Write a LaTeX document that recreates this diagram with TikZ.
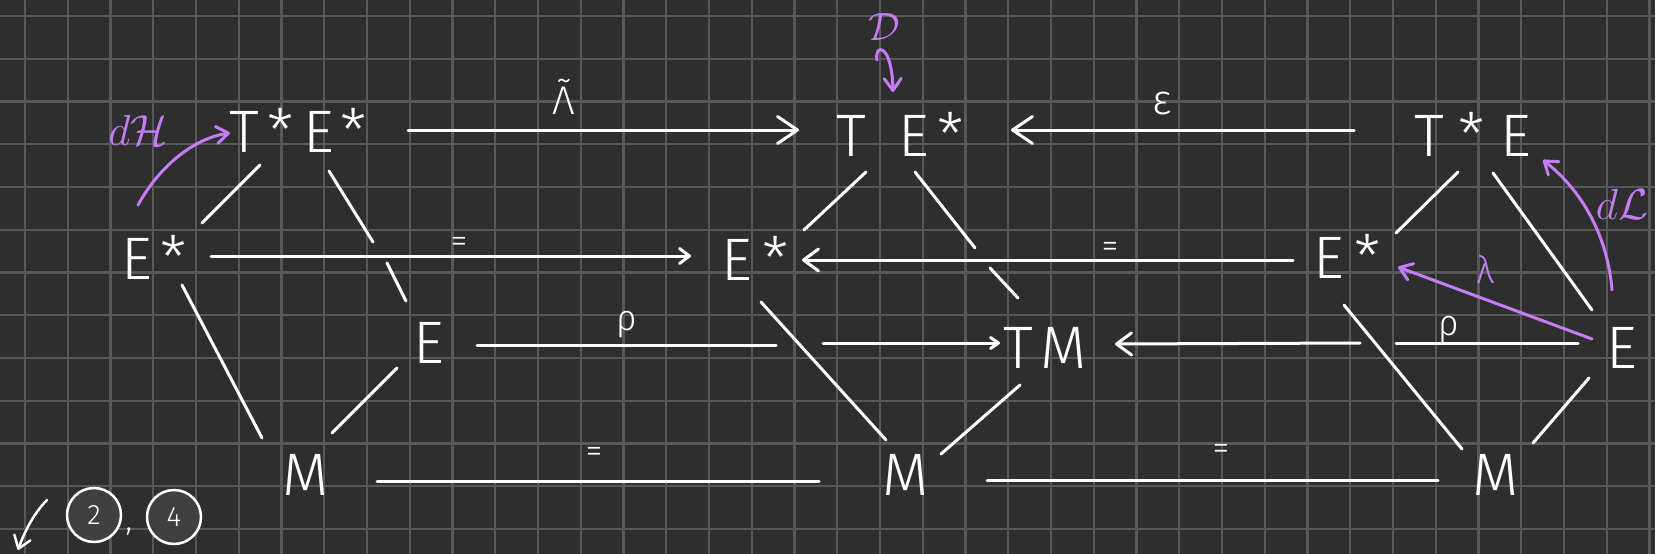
\documentclass[tikz,border=0pt]{standalone}
\usepackage{graphicx}
\usepackage{fontspec}
\setmainfont{Fira Sans}[UprightFont=* Light]
\usetikzlibrary{arrows.meta,calc}
\definecolor{bg}{RGB}{46,46,46}
\definecolor{gridc}{RGB}{88,88,90}
\definecolor{purp}{RGB}{196,125,245}
\definecolor{circfill}{RGB}{64,64,64}
\begin{document}
\begin{tikzpicture}[x=1pt,y=-1pt,
  obj/.style={text=white, font=\fontsize{60}{66}\selectfont, inner sep=0pt},
  eqlab/.style={text=white, font=\fontsize{34}{36}\selectfont, inner sep=0pt},
  glab/.style={text=white, font=\fontsize{#1}{#1}\selectfont, inner sep=0pt},
  plab/.style={text=purp, font=\fontsize{#1}{#1}\selectfont, inner sep=0pt},
  mlab/.style={text=purp, font=\fontsize{20}{22}\selectfont, inner sep=0pt},
  edge/.style={draw=white, line width=3pt, line cap=round},
  pedge/.style={draw=purp, line width=3pt, line cap=round},
  bigtip/.style={-{Straight Barb[length=20pt,width=27pt,round]}},
  midtip/.style={-{Straight Barb[length=15pt,width=22pt,round]}},
  smalltip/.style={-{Straight Barb[length=10pt,width=15pt,round]}},
  tinytip/.style={-{Straight Barb[length=8pt,width=11pt,round]}},
  ptip/.style={-{Straight Barb[length=12pt,width=17pt,round]}},
  numcirc/.style={circle, draw=white, line width=2.5pt, fill=circfill, minimum size=54pt,
    inner sep=0pt, text=white, font=\fontsize{28}{30}\selectfont}
]
\useasboundingbox (0,0) rectangle (1655,554);
\fill[bg] (0,0) rectangle (1655,554);
\foreach \i in {0,...,38} \draw[gridc, line width=2.2pt] ({25+42.75*\i},0) -- ({25+42.75*\i},554);
\foreach \j in {0,...,12} \draw[gridc, line width=2.2pt] (0,{16+42.75*\j}) -- (1655,{16+42.75*\j});

% objects
\node[obj] (TEsL) at (298,130) {T\kern8pt*\kern10pt E\kern6pt*};
\node[obj] (EsL) at (154,257) {E\kern8pt*};
\node[obj] (EL) at (429,343) {E};
\node[obj] (ML) at (306,475) {M};
\node[obj] (TEs) at (900,134) {T\kern32pt E\kern8pt*};
\node[obj] (Es) at (755,258) {E\kern10pt*};
\node[obj] (TM) at (1045,348) {T\kern8pt M};
\node[obj] (MC) at (906,475) {M};
\node[obj] (TE) at (1473,134) {T\kern14pt*\kern16pt E};
\node[obj] (EsR) at (1347,256) {E\kern10pt*};
\node[obj] (ER) at (1622,348) {E};
\node[obj] (MR) at (1496,475) {M};

% labels
\node[glab=40] (lt) at (564,97) {\~{Λ}};
\node[eqlab] (eq1) at (459,245) {=};
\node[glab=36] (rho1) at (627,325) {ρ};
\node[eqlab] (eq2) at (594,455) {=};
\node[glab=42] (eps) at (1162,104) {ε};
\node[eqlab] (eq3) at (1110,250) {=};
\node[glab=36] (rho2) at (1449,330) {ρ};
\node[eqlab] (eq4) at (1221,452) {=};
\node[plab=38] (lam) at (1485,270) {λ};
\node[mlab] (dH) at (138,130) {\scalebox{2.1}{$d\mathcal{H}$}};
\node[mlab] (dL) at (1622,204) {\scalebox{2.1}{$d\mathcal{L}$}};
\node[mlab] (D) at (884,27) {\scalebox{1.9}{$\mathcal{D}$}};

% left diamond
\draw[edge] ($(EsL)+(48,-34)$) -- ($(TEsL)+(-38,35)$);
\draw[edge] ($(TEsL)+(31,41)$) -- ($(TEsL)+(75,112)$);
\draw[edge] ($(EL)+(-42,-80)$) -- ($(EL)+(-23,-42)$);
\draw[edge] ($(EsL)+(28,28)$) -- ($(ML)+(-44,-37)$);
\draw[edge] ($(EL)+(-32,25)$) -- ($(ML)+(26,-42)$);

% horizontal maps
\draw[edge,bigtip] ($(TEsL)+(110,0)$) -- ($(TEs)+(-101,-4)$);
\draw[edge,smalltip] ($(EsL)+(57,-1)$) -- ($(Es)+(-64,-2)$);
\draw[edge] ($(EL)+(48,2)$) -- ($(EL)+(347,2)$);
\draw[edge,tinytip] ($(TM)+(-222,-5)$) -- ($(TM)+(-45,-5)$);
\draw[edge] ($(ML)+(71,6)$) -- ($(MC)+(-87,6)$);
\draw[edge,bigtip] ($(TE)+(-119,-4)$) -- ($(TEs)+(111,-4)$);
\draw[edge,midtip] ($(EsR)+(-54,4)$) -- ($(Es)+(47,2)$);
\draw[edge] ($(ER)+(-44,-5)$) -- ($(ER)+(-226,-5)$);
\draw[edge,midtip] ($(ER)+(-262,-5)$) -- ($(TM)+(70,-4)$);
\draw[edge] ($(MC)+(81,5)$) -- ($(MR)+(-58,5)$);

% centre diamond
\draw[edge] ($(TEs)+(-34,38)$) -- ($(Es)+(49,-28)$);
\draw[edge] ($(TEs)+(15,38)$) -- ($(TEs)+(75,114)$);
\draw[edge] ($(TM)+(-55,-80)$) -- ($(TM)+(-27,-50)$);
\draw[edge] ($(Es)+(6,44)$) -- ($(MC)+(-20,-35)$);
\draw[edge] ($(TM)+(-25,37)$) -- ($(MC)+(35,-21)$);

% right diamond
\draw[edge] ($(TE)+(-15,38)$) -- ($(EsR)+(49,-23)$);
\draw[edge] ($(TE)+(20,39)$) -- ($(ER)+(-30,-38)$);
\draw[edge] ($(EsR)+(-3,49)$) -- ($(MR)+(-34,-26)$);
\draw[edge] ($(ER)+(-33,30)$) -- ($(MR)+(37,-32)$);

% purple maps
\draw[pedge,ptip] ($(ER)+(-30,-9)$) -- ($(EsR)+(51,11)$);
\draw[pedge,ptip] ($(ER)+(-10,-58)$) .. controls ($(ER)+(-14,-108)$) and ($(ER)+(-37,-155)$) .. ($(TE)+(70,26)$);
\draw[pedge,ptip] ($(EsL)+(-16,-52)$) .. controls ($(EsL)+(6,-92)$) and ($(EsL)+(41,-119)$) .. ($(TEsL)+(-68,3)$);
\draw[pedge,ptip] ($(D)+(-7,33)$) .. controls ($(D)+(-10,16)$) and ($(D)+(8,16)$) .. ($(TEs)+(-7,-42)$);

% bottom-left marks
\coordinate (sw1) at (47,500);
\coordinate (sw2) at (18,550);
\draw[edge, line width=2.5pt, -{Straight Barb[length=12pt,width=17pt,round]}] (sw1) .. controls (35,512) and (25,530) .. (sw2);
\node[numcirc] (c2) at (94,515) {2};
\node[glab=32] (comma) at (129,532) {,};
\node[numcirc] (c4) at (174,517) {4};
\end{tikzpicture}
\end{document}
